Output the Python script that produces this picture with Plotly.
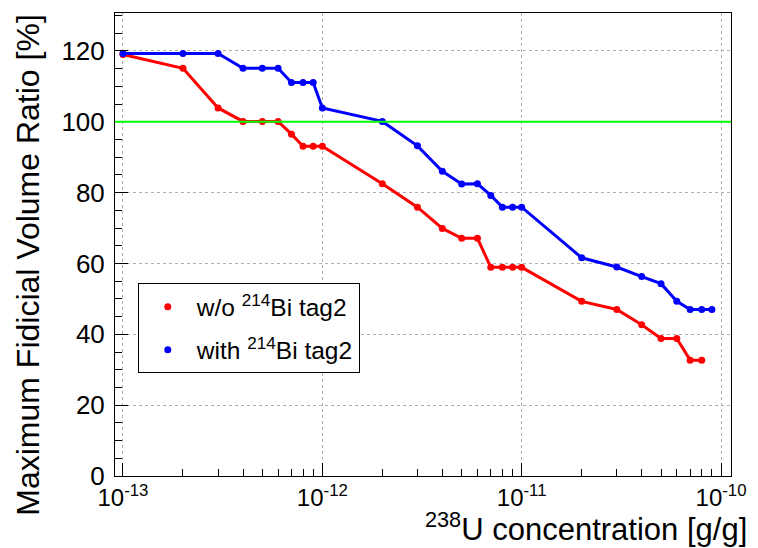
import plotly.graph_objects as go

# data
conc = [1e-13, 2e-13, 3e-13, 4e-13, 5e-13, 6e-13, 7e-13, 8e-13, 9e-13,
        1e-12, 2e-12, 3e-12, 4e-12, 5e-12, 6e-12, 7e-12, 8e-12, 9e-12,
        1e-11, 2e-11, 3e-11, 4e-11, 5e-11, 6e-11, 7e-11, 8e-11, 9e-11]
ratio_wo = [119.0, 115.1, 103.9, 100.1, 100.1, 100.1, 96.5, 93.1, 93.1,
            93.1, 82.5, 75.9, 69.9, 67.1, 67.1, 58.9, 58.9, 58.9,
            58.9, 49.3, 47.0, 42.7, 38.8, 38.8, 32.7, 32.7]
ratio_with = [119.3, 119.3, 119.3, 115.1, 115.1, 115.1, 111.1, 111.1, 111.1,
              103.9, 100.1, 93.2, 86.0, 82.4, 82.5, 79.2, 75.9, 75.9,
              75.9, 61.6, 59.0, 56.3, 54.3, 49.3, 47.0, 47.0, 47.0]
name_wo = "w/o <sup>214</sup>Bi tag2"
name_with = "with <sup>214</sup>Bi tag2"
major_x = [1e-13, 1e-12, 1e-11, 1e-10]
major_x_text = ["10<sup>-13</sup>", "10<sup>-12</sup>", "10<sup>-11</sup>", "10<sup>-10</sup>"]
minor_x = [m * d for d in (1e-13, 1e-12, 1e-11) for m in range(2, 10)]
y_ticks = [0, 20, 40, 60, 80, 100, 120]
ref_level = 100

FONT = "Liberation Sans, Arial, sans-serif"

fig = go.Figure()
fig.add_trace(go.Scatter(x=conc[:len(ratio_wo)], y=ratio_wo, mode="lines+markers",
                         line=dict(color="#ff0000", width=3),
                         marker=dict(color="#ff0000", size=7), showlegend=False))
fig.add_trace(go.Scatter(x=conc[:len(ratio_with)], y=ratio_with, mode="lines+markers",
                         line=dict(color="#0000ff", width=3),
                         marker=dict(color="#0000ff", size=7), showlegend=False))
# legend entries (marker only, like ROOT "p")
fig.add_trace(go.Scatter(x=[None], y=[None], mode="markers", name=name_wo,
                         marker=dict(color="#ff0000", size=7), legendgroup="a"))
fig.add_trace(go.Scatter(x=[None], y=[None], mode="markers", name=name_with,
                         marker=dict(color="#0000ff", size=7), legendgroup="b"))

fig.add_shape(type="line", xref="paper", x0=0, x1=1, yref="y", y0=ref_level, y1=ref_level,
              line=dict(color="#00ff00", width=2), layer="above")

fig.update_layout(
    width=758, height=548,
    margin=dict(l=115, r=21, t=12, b=72),
    paper_bgcolor="white", plot_bgcolor="white",
    font=dict(family=FONT, size=26, color="black"),
    xaxis=dict(type="log", range=[-13.04, -9.95],
               tickmode="array", tickvals=major_x, ticktext=major_x_text,
               ticks="inside", ticklen=13, tickwidth=1, tickcolor="black",
               showline=True, linecolor="black", linewidth=1, mirror=True,
               showgrid=True, gridcolor="#b0b0b0", griddash="dot", gridwidth=1,
               zeroline=False, tickfont=dict(size=24), ticklabelstandoff=0,
               minor=dict(tickmode="array", tickvals=minor_x, ticks="inside",
                          ticklen=7, tickcolor="black", showgrid=False)),
    yaxis=dict(range=[0, 130.7], tickmode="array", tickvals=y_ticks,
               ticks="inside", ticklen=13, tickwidth=1, tickcolor="black",
               showline=True, linecolor="black", linewidth=1, mirror=True,
               showgrid=True, gridcolor="#b0b0b0", griddash="dot", gridwidth=1,
               zeroline=False, tickfont=dict(size=26), ticklabelstandoff=4,
               minor=dict(dtick=5, ticks="inside", ticklen=7, tickcolor="black",
                          showgrid=False)),
    legend=dict(x=0.037, y=0.416, xanchor="left", yanchor="top",
                bgcolor="white", bordercolor="black", borderwidth=1,
                font=dict(size=24.5), tracegroupgap=8, itemwidth=48,
                entrywidth=214, entrywidthmode="pixels"),
    annotations=[
        dict(text="<sup>238</sup>U concentration [g/g]", xref="paper", yref="paper",
             x=1.03, y=-0.062, xanchor="right", yanchor="top", showarrow=False,
             font=dict(size=31)),
        dict(text="Maximum Fidicial Volume Ratio [%]", xref="paper", yref="paper",
             x=-0.175, y=1.0, xanchor="left", yanchor="top", textangle=-90,
             showarrow=False, font=dict(size=32)),
    ],
)

fig.write_html("out.html")
